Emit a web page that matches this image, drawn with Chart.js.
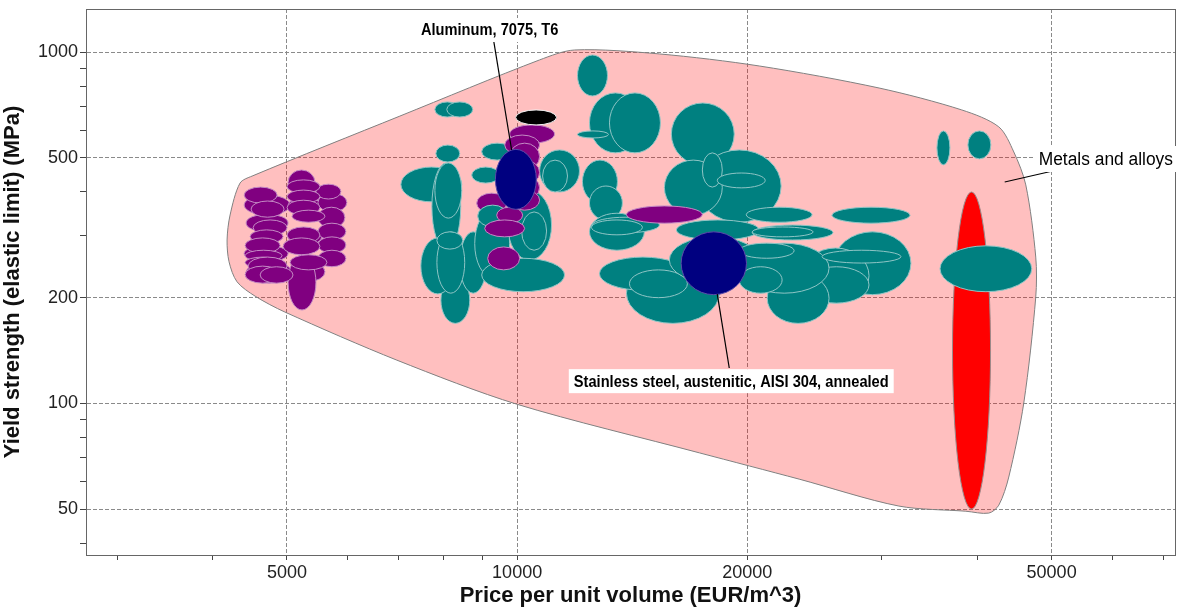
<!DOCTYPE html>
<html>
<head>
<meta charset="utf-8">
<title>Yield strength vs price per unit volume</title>
<script src="https://cdn.jsdelivr.net/npm/chart.js@4.4.1/dist/chart.umd.min.js"></script>
<style>
  html, body { margin: 0; padding: 0; background: #ffffff; }
  canvas { display: block; }
</style>
</head>
<body>
<canvas id="chart" width="1187" height="610"></canvas>
<script>
// ---- Axis ranges and ticks ----
const priceRange = [2730, 72500];          // EUR/m^3
const strengthRange = [37, 1328];          // MPa
const priceTicks = [3000, 4000, 5000, 6000, 7000, 8000, 9000, 10000, 20000, 30000, 40000, 50000, 60000, 70000];
const priceLabels = [5000, 10000, 20000, 50000];
const strengthTicks = [40, 50, 60, 70, 80, 90, 100, 200, 300, 400, 500, 600, 700, 800, 900, 1000];
const strengthLabels = [50, 100, 200, 500, 1000];

// ---- Material records (drawn in this order) ----
// group: R red, T teal, P purple, K black, N navy (highlighted)
const group = [
  'R', 'T', 'T', 'T',
  'P', 'P', 'P', 'P', 'P', 'P', 'P', 'P',
  'P', 'P', 'P', 'P', 'P', 'P', 'P', 'P', 'P', 'P', 'P', 'P',
  'P', 'P', 'P', 'P', 'P', 'P', 'P', 'P', 'P', 'P', 'P', 'P',
  'T', 'T', 'T', 'T', 'T', 'T', 'T', 'T', 'T', 'T', 'T', 'T', 'T', 'T', 'T', 'T', 'T', 'T', 'T',
  'P', 'P', 'P', 'P', 'P', 'P', 'P', 'T', 'P', 'P', 'P', 'K',
  'T', 'T', 'T', 'T', 'T', 'T', 'T', 'T', 'T', 'T', 'T', 'T', 'T', 'T', 'P',
  'T', 'T', 'T', 'T', 'T', 'T', 'T', 'T', 'T', 'T', 'T', 'T', 'T', 'T', 'T', 'T', 'T',
  'N', 'N'
];
// price per unit volume range, EUR/m^3
const price = [
  [37100, 41600], [35730, 47100], [35400, 36810], [38860, 41640],
  [4395, 5047], [4421, 5017], [4395, 5017], [4421, 5077], [5017, 5555], [5017, 5555], [5047, 5606], [5489, 5989],
  [5017, 5456], [5017, 5440], [4395, 4854], [5456, 5882], [5002, 5522], [4488, 4957], [5002, 5522], [5002, 5522],
  [5489, 5953], [5077, 5606], [4516, 5002], [5489, 5971], [4475, 4942], [5002, 5522], [4408, 4898], [5489, 5971],
  [4942, 5522], [4408, 4927], [5489, 5971], [4408, 4898], [5047, 5640], [4448, 5002], [4408, 4898], [4612, 5092],
  [7806, 8413], [8091, 8748], [7046, 8464], [7736, 8438], [7806, 8464], [7829, 8413], [7949, 8670], [7483, 8288],
  [8413, 9124], [7853, 8540], [7853, 8489], [8722, 9488], [8988, 9865], [10700, 12065], [10797, 11638], [9719, 11092],
  [10136, 10927], [8801, 9777], [8988, 11534],
  [9777, 11193], [9632, 10700], [9777, 10700], [9777, 10700], [9632, 10700], [9777, 10700], [8854, 9690], [8880, 9719],
  [9403, 10167], [9069, 10228], [9151, 10077], [9955, 11260],
  [11993, 13126], [12433, 14537], [13205, 15395], [11993, 13166], [15910, 19227], [12173, 13526], [12433, 13729],
  [12433, 14668], [12545, 15349], [12508, 14581], [17205, 22144], [15580, 18548], [17467, 18548], [18271, 21107],
  [13898, 17467],
  [19935, 24307], [25811, 32640], [25966, 32735], [23584, 28850], [23724, 28850], [21234, 25580], [13898, 18381],
  [12812, 16647], [14024, 16697], [16151, 20729], [20297, 25888], [20297, 24380], [15815, 20729], [19519, 25580],
  [19519, 23026], [19519, 22210], [25049, 31762],
  [9366, 10594], [16385, 19950]
];
// yield strength (elastic limit) range, MPa
const strength = [
  [50, 400], [208, 281], [478, 597], [497, 597],
  [344, 392], [308, 346], [253, 282], [220, 253], [351, 384], [282, 316], [222, 253], [351, 397],
  [184.5, 264.5], [392, 462], [372, 413], [382, 421], [397, 433], [339, 377], [372, 405], [344, 379],
  [316, 362], [328, 355], [301, 333], [292, 326], [286, 312], [286, 318], [268, 296], [268, 298],
  [265, 296], [254, 273], [245, 273], [243, 261], [240, 265], [232, 261], [220, 246], [220, 245],
  [654, 722], [654, 722], [375, 471], [273, 484], [337, 484], [487, 544], [169, 229], [205, 296],
  [206, 308], [206, 308], [275, 308], [424, 471], [493, 551], [400, 527], [400, 493], [256, 405],
  [273, 351], [229, 355], [208, 259],
  [551, 621], [510, 581], [462, 551], [419, 493], [379, 447], [355, 405], [348, 397], [318, 367],
  [326, 362], [298, 333], [240, 279], [621, 685],
  [751, 982], [517, 766], [517, 766], [570, 597], [477, 717], [372, 493], [333, 416],
  [273, 348], [306, 339], [302, 333], [328, 527], [344, 493], [413, 517], [411, 453],
  [326, 365],
  [328, 362], [326, 362], [204, 308], [193, 277], [193, 245], [169, 235], [169, 251],
  [210, 261], [200, 240], [292, 333], [292, 322], [298, 318], [220, 298], [206, 286],
  [259, 286], [206, 245], [251, 273],
  [357, 529], [204, 308]
];

// ---- Envelope of the family (price, strength), traced clockwise ----
const envPrice = [17310, 9985, 6961, 4970, 4543, 4302, 4200, 4175, 4213, 4341, 4502, 7025, 10700, 11890, 15350,
  20730, 29740, 38150, 42650, 44620, 46260, 47670, 47670, 45980, 43950, 42650, 41380, 38620, 31570, 23380];
const envStrength = [72.3, 99.5, 132.8, 182, 202, 222, 253, 292, 344, 424, 444, 658, 951, 1015, 989,
  914, 791, 685, 613, 520, 419, 261, 201, 100.2, 61.7, 51.3, 48.7, 49.3, 51, 60.85];

// ---- Styles ----
const FONT = '"Liberation Sans", Arial, Helvetica, sans-serif';
const fills = { R: '#ff0000', T: '#008080', P: '#800080', K: '#000000', N: '#000080' };
const edges = { R: '#9a8a8a', T: '#8ec5c5', P: '#c48ac4', K: '#f2f2f2', N: '#5a4aa8' };

// Annotations: text anchored in data space, leader from/to in data space
const notes = [
  { text: 'Aluminum, 7075, T6', weight: 'bold', size: 16, squeeze: 0.915, align: 'center',
    at: [9207, 1157], leader: [[9318, 1077], [9836, 526.8]] },
  { text: 'Stainless steel, austenitic, AISI 304, annealed', weight: 'bold', size: 16, squeeze: 0.915, align: 'center',
    at: [19055, 115.7], leader: [[18270, 204.8], [18941, 126.1]] },
  { text: 'Metals and alloys', weight: 'normal', size: 18, squeeze: 0.965, align: 'left',
    at: [48100, 496.6], leader: [[43410, 427.1], [50170, 459]] }
];

const envelope = envPrice.map((p, i) => ({ x: p, y: envStrength[i] }));
envelope.push(envelope[0]);

// Draws each material as an ellipse spanning its price and strength ranges
const ellipsePlugin = {
  id: 'materialEllipses',
  afterDatasetsDraw(chart) {
    const { ctx, chartArea: a, scales: { x, y } } = chart;
    ctx.save();
    ctx.beginPath();
    ctx.rect(a.left, a.top, a.right - a.left, a.bottom - a.top);
    ctx.clip();
    ctx.lineWidth = 1;
    group.forEach((g, i) => {
      const x1 = x.getPixelForValue(price[i][0]);
      const x2 = x.getPixelForValue(price[i][1]);
      const y1 = y.getPixelForValue(strength[i][0]);
      const y2 = y.getPixelForValue(strength[i][1]);
      ctx.beginPath();
      ctx.ellipse((x1 + x2) / 2, (y1 + y2) / 2, Math.abs(x2 - x1) / 2, Math.abs(y2 - y1) / 2, 0, 0, Math.PI * 2);
      ctx.fillStyle = fills[g];
      ctx.fill();
      ctx.strokeStyle = edges[g];
      ctx.stroke();
    });
    ctx.restore();
  }
};

// Closed frame around the plot area plus the labels with leader lines
const framePlugin = {
  id: 'frameAndNotes',
  afterDraw(chart) {
    const { ctx, chartArea: a, scales: { x, y } } = chart;
    ctx.save();
    const l = Math.round(a.left), t = Math.round(a.top), r = Math.round(a.right), b = Math.round(a.bottom);
    ctx.strokeStyle = '#666666';
    ctx.lineWidth = 1;
    ctx.strokeRect(l + 0.5, t + 0.5, r - l, b - t);

    notes.forEach(n => {
      const [p0, p1] = n.leader;
      ctx.beginPath();
      ctx.moveTo(x.getPixelForValue(p0[0]), y.getPixelForValue(p0[1]));
      ctx.lineTo(x.getPixelForValue(p1[0]), y.getPixelForValue(p1[1]));
      ctx.strokeStyle = '#000000';
      ctx.lineWidth = 1.2;
      ctx.stroke();
    });

    notes.forEach(n => {
      const px = x.getPixelForValue(n.at[0]);
      const py = y.getPixelForValue(n.at[1]);
      ctx.save();
      ctx.translate(px, py);
      ctx.scale(n.squeeze, 1);
      ctx.font = `${n.weight} ${n.size}px ${FONT}`;
      ctx.textBaseline = 'middle';
      ctx.textAlign = n.align;
      const w = ctx.measureText(n.text).width;
      const pad = 5 / n.squeeze;
      const h = n.size + 8;
      const left = n.align === 'center' ? -w / 2 : 0;
      ctx.fillStyle = '#ffffff';
      ctx.fillRect(left - pad, -h / 2, w + 2 * pad, h);
      ctx.fillStyle = '#000000';
      ctx.fillText(n.text, 0, 1);
      ctx.restore();
    });
    ctx.restore();
  }
};

const gridColor = labels => c => (c.tick && labels.includes(c.tick.value)) ? '#8a8a8a' : 'rgba(0,0,0,0)';

new Chart(document.getElementById('chart'), {
  type: 'scatter',
  data: {
    datasets: [{
      label: 'Metals and alloys',
      data: envelope,
      showLine: true,
      fill: 'shape',
      tension: 0.3,
      backgroundColor: 'rgba(255, 0, 0, 0.25)',
      borderColor: '#808080',
      borderWidth: 1,
      pointRadius: 0,
      pointHoverRadius: 0
    }]
  },
  options: {
    responsive: false,
    animation: false,
    devicePixelRatio: 1,
    events: [],
    layout: { padding: { top: 9, right: 12, left: 0, bottom: 0 } },
    plugins: {
      legend: { display: false },
      tooltip: { enabled: false }
    },
    scales: {
      x: {
        type: 'logarithmic',
        min: priceRange[0],
        max: priceRange[1],
        afterBuildTicks: s => { s.ticks = priceTicks.map(v => ({ value: v })); },
        afterFit: s => { s.height = 55; s.paddingLeft = 0; s.paddingRight = 0; },
        ticks: {
          autoSkip: false, maxRotation: 0, minRotation: 0, padding: 2,
          color: '#222222', font: { family: FONT, size: 18 },
          callback: v => priceLabels.includes(v) ? String(v) : ''
        },
        grid: { color: gridColor(priceLabels), tickColor: '#444444', tickLength: 5, lineWidth: 1 },
        border: { color: '#666666', width: 1, dash: [4, 2] },
        title: {
          display: true, text: 'Price per unit volume (EUR/m^3)', color: '#111111',
          font: { family: FONT, size: 22, weight: 'bold' }, padding: { top: 0, bottom: 1 }
        }
      },
      y: {
        type: 'logarithmic',
        min: strengthRange[0],
        max: strengthRange[1],
        afterBuildTicks: s => { s.ticks = strengthTicks.map(v => ({ value: v })); },
        afterFit: s => { s.width = 86; s.paddingTop = 0; s.paddingBottom = 0; },
        ticks: {
          autoSkip: false, padding: 2,
          color: '#222222', font: { family: FONT, size: 18 },
          callback: v => strengthLabels.includes(v) ? String(v) : ''
        },
        grid: { color: gridColor(strengthLabels), tickColor: '#444444', tickLength: 6, lineWidth: 1 },
        border: { color: '#666666', width: 1, dash: [4, 2] },
        title: {
          display: true, text: 'Yield strength (elastic limit) (MPa)', color: '#111111',
          font: { family: FONT, size: 22, weight: 'bold' }, padding: { top: 0, bottom: 6 }
        }
      }
    }
  },
  plugins: [ellipsePlugin, framePlugin]
});
</script>
</body>
</html>
